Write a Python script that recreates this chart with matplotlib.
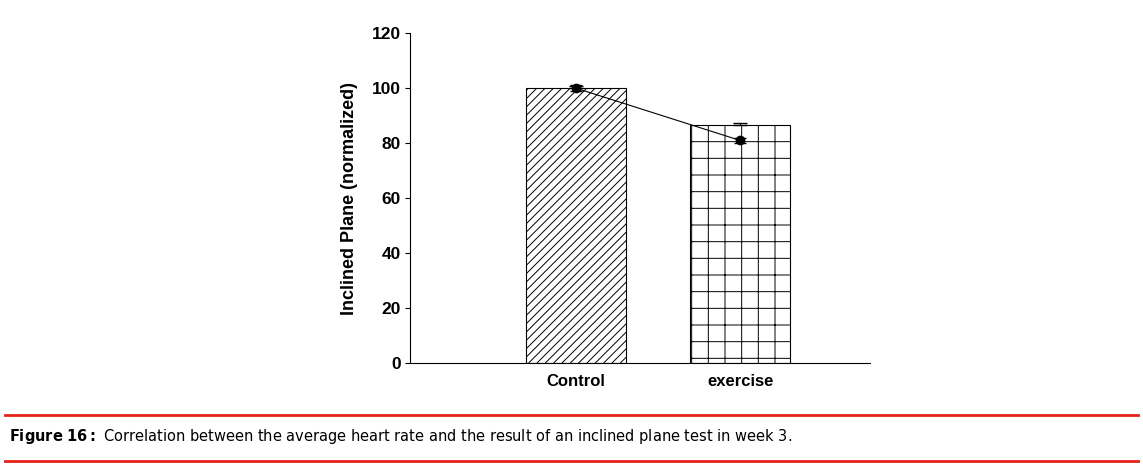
import matplotlib
matplotlib.use("Agg")
import matplotlib.pyplot as plt

categories = ["Control", "exercise"]
bar_values = [100, 86.5]
bar_err = [0.8, 1.0]
line_values = [100, 81]
line_err = [1.0, 1.0]

plt.rcParams['hatch.linewidth'] = 0.7
fig = plt.figure(figsize=(11.43, 4.68), dpi=100)
ax = fig.add_axes([0.359, 0.224, 0.402, 0.705])
x = [0, 1]
b = ax.bar(x, bar_values, width=0.61, color="white", edgecolor="black", linewidth=0.8)
b[0].set_hatch("////")
b[1].set_hatch("+")
ax.errorbar(x, bar_values, yerr=[[0, 0], bar_err], fmt="none", ecolor="black", capsize=5, lw=0.8)
ax.errorbar(x, line_values, yerr=line_err, fmt="o-", color="black", ms=6, lw=0.8, capsize=4)
ax.set_xlim(-1.01, 1.79)
ax.set_ylim(0, 120)
ax.set_yticks(range(0, 121, 20))
ax.set_xticks(x)
ax.set_xticklabels(categories, fontsize=12, fontweight="bold", family="Liberation Sans")
ax.tick_params(axis="x", length=0, pad=8)
for lbl in ax.get_yticklabels():
    lbl.set_fontweight("bold"); lbl.set_fontsize(12.5); lbl.set_family("Liberation Sans")
ax.set_ylabel("Inclined Plane (normalized)", fontsize=13, fontweight="bold", family="Liberation Sans", labelpad=10)
for s in ["top", "right"]:
    ax.spines[s].set_visible(False)

fig.add_artist(plt.Line2D([0.004, 0.996], [1 - 415/468] * 2, color="#e32119", lw=2))
fig.add_artist(plt.Line2D([0.004, 0.996], [1 - 461/468] * 2, color="#e32119", lw=2))
fig.text(0.008, 1 - 437/468, r"$\bf{Figure\ 16:}$ Correlation between the average heart rate and the result of an inclined plane test in week 3.",
         fontsize=10.5, va="center", family="DejaVu Sans")
fig.savefig("out.png", dpi=100)
